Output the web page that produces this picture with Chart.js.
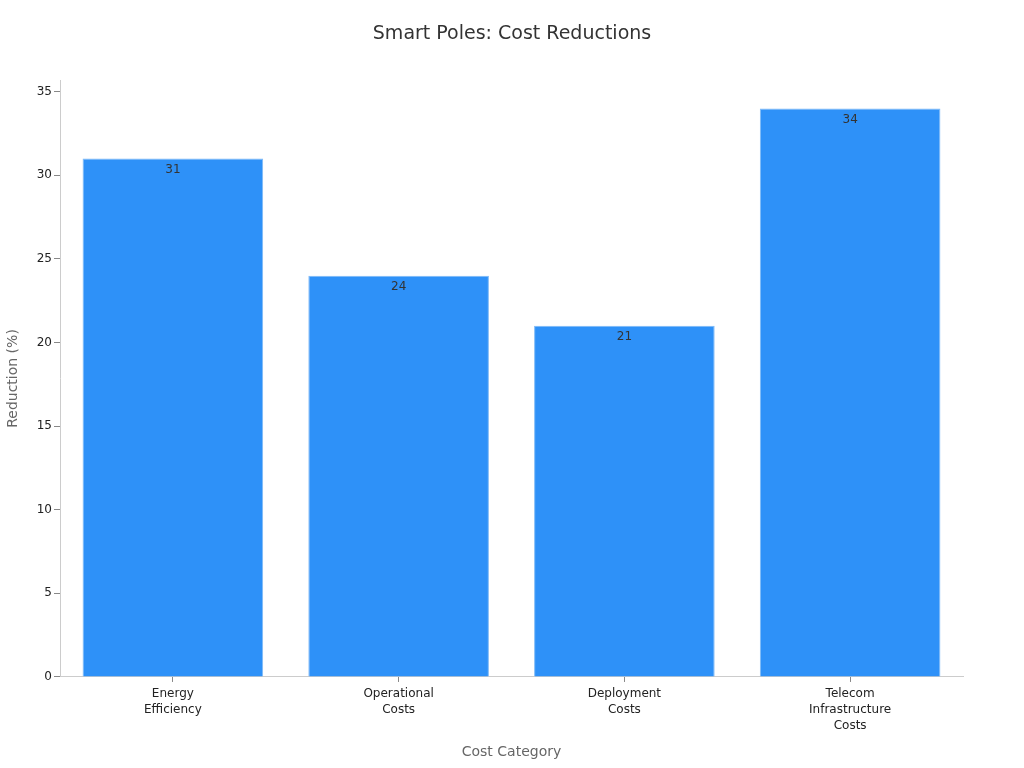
<!DOCTYPE html>
<html>
<head>
<meta charset="utf-8">
<script src="https://cdn.jsdelivr.net/npm/chart.js@4/dist/chart.umd.min.js"></script>
<style>
  html, body { margin: 0; padding: 0; background: #fff; }
  #wrap { width: 1024px; height: 768px; }
</style>
</head>
<body>
<div id="wrap"><canvas id="myChart" width="1024" height="768"></canvas></div>
<script>
// datos del grafico
var titulo = 'Smart Poles: Cost Reductions';
var categorias = [["Energy", "Efficiency"], ["Operational", "Costs"], ["Deployment", "Costs"], ["Telecom", "Infrastructure", "Costs"]];
var reducciones = [31, 24, 21, 34];
var ticksY = [0, 5, 10, 15, 20, 25, 30, 35];

// pinta el valor dentro de la barra, arriba, y el titulo centrado en el canvas
const etiquetasBarras = {
  id: 'etiquetasBarras',
  afterDatasetsDraw(chart) {
    var ctx = chart.ctx;
    var meta = chart.getDatasetMeta(0);
    ctx.save();
    ctx.font = '12px "DejaVu Sans", sans-serif';
    ctx.fillStyle = '#333';
    ctx.textAlign = 'center';
    ctx.textBaseline = 'top';
    meta.data.forEach((bar, i) => {
      ctx.fillText(String(reducciones[i]), bar.x, bar.y + 5);
    });
    ctx.font = '19px "DejaVu Sans", sans-serif';
    ctx.textBaseline = 'middle';
    ctx.fillText(titulo, chart.width / 2, 34);
    ctx.restore();
  }
};

const config = {
  type: 'bar',
  data: {
    labels: categorias,
    datasets: [{
      label: 'Reduction (%)',
      data: reducciones,
      backgroundColor: '#2E91F8',
      borderColor: '#7DB9F7',
      borderWidth: 1,
      barPercentage: 0.8,
      categoryPercentage: 1
    }]
  },
  options: {
    responsive: false,
    animation: false,
    layout: { padding: { left: 0, right: 61, top: 80, bottom: 3 } },
    plugins: {
      legend: { display: false },
      tooltip: { enabled: false },
      title: { display: false }
    },
    scales: {
      x: {
        border: { color: '#ccc' },
        grid: { drawOnChartArea: false, offset: false, tickLength: 5, color: '#888' },
        ticks: { color: '#222', font: { family: '"DejaVu Sans", sans-serif', size: 12, lineHeight: 1.34 }, maxRotation: 0, padding: 4 },
        title: {
          display: true, text: 'Cost Category', color: '#666',
          font: { family: '"DejaVu Sans", sans-serif', size: 14 }, padding: { top: 6 }
        }
      },
      y: {
        min: 0,
        max: 35.7,
        afterBuildTicks(axis) { axis.ticks = ticksY.map(v => ({ value: v })); },
        afterFit(axis) { axis.width = 60; },
        border: { color: '#ccc' },
        grid: { drawOnChartArea: false, tickLength: 6, color: '#888' },
        ticks: { color: '#222', font: { family: '"DejaVu Sans", sans-serif', size: 12 }, padding: 2 },
        title: {
          display: true, text: 'Reduction (%)', color: '#666',
          font: { family: '"DejaVu Sans", sans-serif', size: 14 }, padding: { top: 5, bottom: 12 }
        }
      }
    }
  },
  plugins: [etiquetasBarras]
};

var myChart = new Chart(document.getElementById('myChart'), config);
</script>
</body>
</html>
